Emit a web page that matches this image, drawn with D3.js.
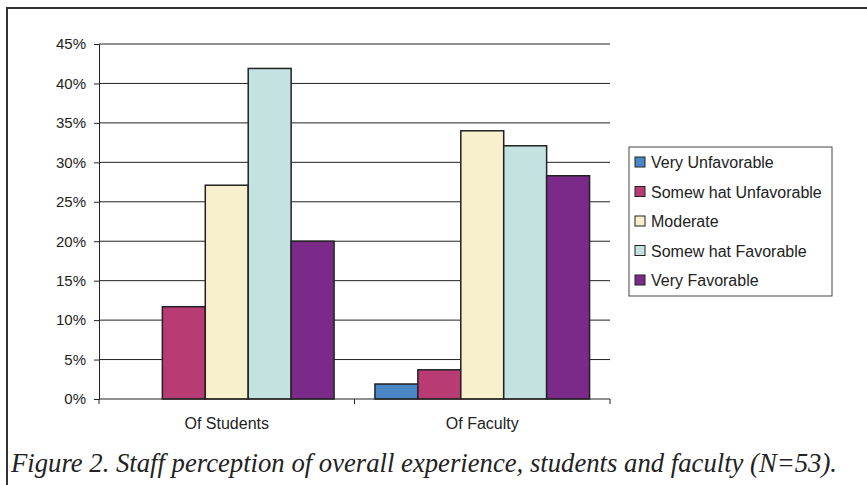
<!DOCTYPE html>
<html>
<head>
<meta charset="utf-8">
<script src="https://cdnjs.cloudflare.com/ajax/libs/d3/7.8.5/d3.min.js"></script>
<style>
  body { margin: 0; background: #fff; }
  text { font-family: Arial, "Liberation Sans", sans-serif; fill: #222; }
</style>
</head>
<body>
<div id="chart"></div>
<script>
// data
var groups = ["Of Students", "Of Faculty"];
var series = ["Very Unfavorable", "Somew hat Unfavorable", "Moderate", "Somew hat Favorable", "Very Favorable"];
var students = [0, 11.7, 27.1, 41.9, 20.0];
var faculty = [1.9, 3.7, 34.0, 32.1, 28.3];
var yTicks = [0, 5, 10, 15, 20, 25, 30, 35, 40, 45];
var colors = ["#4a86c5", "#b83b74", "#f8f0cc", "#c4e2e0", "#7b2a89"];
var caption = "Figure 2. Staff perception of overall experience, students and faculty (N=53).";

var values = [students, faculty];

var W = 867, H = 485;
var margin = {top: 44, left: 99, right: 257, bottom: 86};
var width = W - margin.left - margin.right,
    height = H - margin.top - margin.bottom;

var svg = d3.select("#chart").append("svg")
  .attr("width", W).attr("height", H);

// frame
svg.append("path")
  .attr("d", "M7,485 V8 H867")
  .attr("fill", "none").attr("stroke", "#333").attr("stroke-width", 2);

var g = svg.append("g")
  .attr("transform", "translate(" + margin.left + "," + margin.top + ")");

var y = d3.scaleLinear().domain([0, 45]).range([height, 0]);
var x0 = d3.scaleBand().domain(groups).range([0, width]).paddingInner(0.16).paddingOuter(0.08);
var x1 = d3.scaleBand().domain(series).range([0, x0.bandwidth()]);

// gridlines
g.selectAll(".grid").data(yTicks.filter(function(d) { return d > 0; }))
  .enter().append("line")
  .attr("x1", 0).attr("x2", width)
  .attr("y1", function(d) { return y(d); }).attr("y2", function(d) { return y(d); })
  .attr("stroke", "#222").attr("stroke-width", 1);

// y axis
var yAxis = g.append("g")
  .call(d3.axisLeft(y).tickValues(yTicks).tickFormat(function(d) { return d + "%"; }).tickSize(5).tickPadding(8));
yAxis.select(".domain").attr("stroke", "#222");
yAxis.selectAll(".tick line").attr("stroke", "#222");
yAxis.selectAll("text").style("font-size", "15px").attr("fill", "#222");

// bars
var grp = g.selectAll(".grp").data(groups).enter().append("g")
  .attr("transform", function(d) { return "translate(" + x0(d) + ",0)"; });

grp.selectAll("rect")
  .data(function(d, i) { return values[i].map(function(v, j) { return {s: series[j], v: v, c: colors[j]}; }); })
  .enter().filter(function(d) { return d.v > 0; }).append("rect")
  .attr("x", function(d) { return x1(d.s); })
  .attr("y", function(d) { return y(d.v); })
  .attr("width", x1.bandwidth())
  .attr("height", function(d) { return height - y(d.v); })
  .attr("fill", function(d) { return d.c; })
  .attr("stroke", "#222").attr("stroke-width", 1.5);

// x axis
var xAxis = g.append("g")
  .attr("transform", "translate(0," + height + ")");
xAxis.append("line").attr("x1", 0).attr("x2", width).attr("stroke", "#222");
[0, width / 2, width].forEach(function(t) {
  xAxis.append("line").attr("x1", t).attr("x2", t).attr("y1", 0).attr("y2", 5).attr("stroke", "#222");
});
xAxis.selectAll(".xl").data(groups).enter().append("text")
  .attr("x", function(d) { return x0(d) + x0.bandwidth() / 2; })
  .attr("y", 30)
  .attr("text-anchor", "middle")
  .style("font-size", "16px")
  .text(function(d) { return d; });

// legend
var leg = svg.append("g").attr("transform", "translate(629,147)");
leg.append("rect").attr("width", 203).attr("height", 149)
  .attr("fill", "#fff").attr("stroke", "#444").attr("stroke-width", 1);
var item = leg.selectAll(".li").data(series).enter().append("g")
  .attr("transform", function(d, i) { return "translate(6," + (15 + i * 29.5) + ")"; });
item.append("rect").attr("x", 0).attr("y", -5).attr("width", 10).attr("height", 10)
  .attr("fill", function(d, i) { return colors[i]; })
  .attr("stroke", "#222").attr("stroke-width", 1);
item.append("text").attr("x", 16).attr("y", 6)
  .style("font-size", "16px")
  .text(function(d) { return d; });

// caption
svg.append("text")
  .attr("x", 11).attr("y", 472)
  .attr("textLength", 826).attr("lengthAdjust", "spacingAndGlyphs")
  .style("font-family", "'Liberation Serif', 'DejaVu Serif', serif")
  .style("font-style", "italic")
  .style("font-size", "27px")
  .attr("fill", "#222")
  .text(caption);
</script>
</body>
</html>
